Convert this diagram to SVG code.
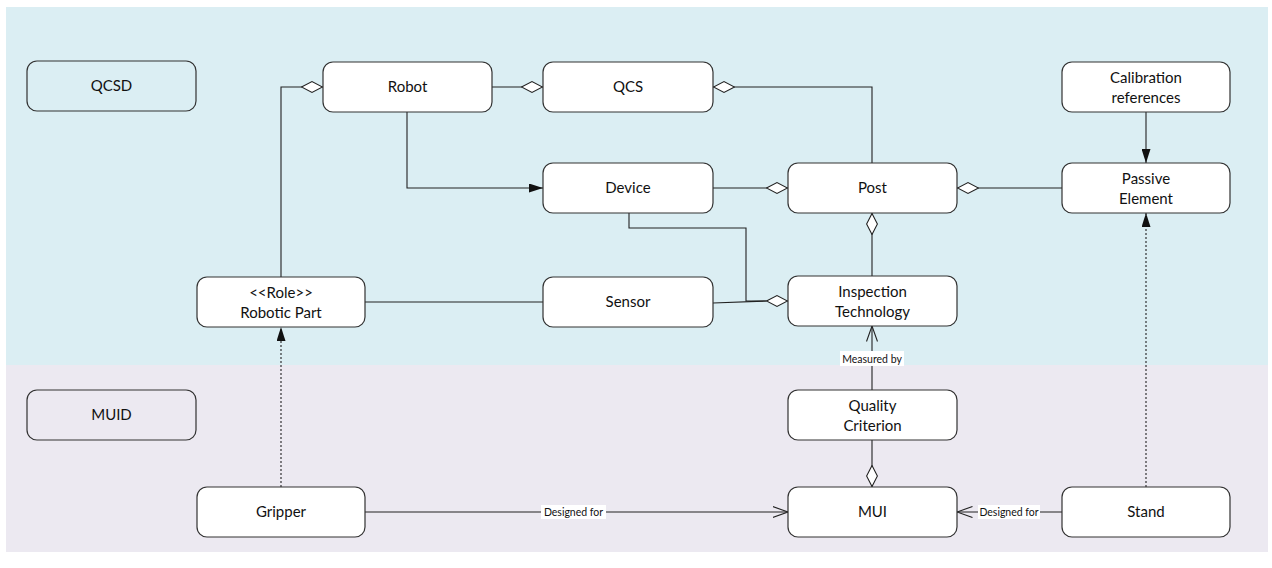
<svg xmlns="http://www.w3.org/2000/svg" width="1272" height="568" viewBox="0 0 1272 568">
<style>
.node rect{fill:#fff;stroke:#333;stroke-width:1.2}
.pkg rect{fill:none;stroke:#333;stroke-width:1.2}
text{font-family:Lato,"Liberation Sans",sans-serif;font-size:15px;fill:#111;text-anchor:middle}
.lbl{font-size:10.5px}
.c path{fill:none;stroke:#222;stroke-width:1.1}
.dot{stroke-dasharray:2,2}
</style>
<defs>
<marker id="dia" markerUnits="userSpaceOnUse" viewBox="0 0 22 12" refX="22" refY="6" markerWidth="22" markerHeight="12" orient="auto">
<path d="M0.5,6 L11,0.6 L21.5,6 L11,11.4 Z" fill="#fff" stroke="#222" stroke-width="1.1"/>
</marker>
<marker id="fa" markerUnits="userSpaceOnUse" viewBox="0 0 14 9" refX="14" refY="4.5" markerWidth="14" markerHeight="9" orient="auto">
<path d="M0,0 L14,4.5 L0,9 Z" fill="#111"/>
</marker>
<marker id="oa" markerUnits="userSpaceOnUse" viewBox="0 0 16 12" refX="15.5" refY="6" markerWidth="16" markerHeight="12" orient="auto">
<path d="M0,0.5 L15.5,6 L0,11.5" fill="none" stroke="#222" stroke-width="1.1"/>
</marker>
</defs>
<rect x="6" y="7" width="1262" height="358" fill="#DBEEF3"/>
<rect x="6" y="365" width="1262" height="187" fill="#ECE9F1"/>

<g id="QCSD" class="pkg"><rect x="27" y="61" width="169" height="50" rx="10"/><text x="111.5" y="91">QCSD</text></g>
<g id="MUID" class="pkg"><rect x="27" y="390" width="169" height="50" rx="10"/><text x="111.5" y="420">MUID</text></g>

<g class="c" id="connectors">
<path d="M281,277 V87 H323" marker-end="url(#dia)"/>
<path d="M492,87 H543" marker-end="url(#dia)"/>
<path d="M872,163 V87 H713" marker-end="url(#dia)"/>
<path d="M407,112 V188 H543" marker-end="url(#fa)"/>
<path d="M713,188 H788" marker-end="url(#dia)"/>
<path d="M1062,188 H957" marker-end="url(#dia)"/>
<path d="M1146,112 V163" marker-end="url(#fa)"/>
<path d="M872,276 V213" marker-end="url(#dia)"/>
<path d="M629,213 V228 H746 V301 H788" marker-end="url(#dia)"/>
<path d="M713,303 L766,301"/>
<path d="M365,302 H543"/>
<path class="dot" d="M281,487 V327" marker-end="url(#fa)"/>
<path class="dot" d="M1146,487 V213" marker-end="url(#fa)"/>
<path d="M872,390 V326" marker-end="url(#oa)"/>
<path d="M872,440 V487" marker-end="url(#dia)"/>
<path d="M365,512 H788" marker-end="url(#oa)"/>
<path d="M1062,512 H957" marker-end="url(#oa)"/>
<rect x="840" y="351" width="64" height="15" fill="#fff"/>
<text class="lbl" x="872" y="362.5">Measured by</text>
<rect x="541" y="505" width="65" height="14" fill="#fff"/>
<text class="lbl" x="573.5" y="516">Designed for</text>
<rect x="978" y="505" width="62" height="14" fill="#fff"/>
<text class="lbl" x="1009" y="516">Designed for</text>
</g>

<g id="Robot" class="node"><rect x="323" y="62" width="169" height="50" rx="10"/><text x="407.5" y="92">Robot</text></g>
<g id="QCS" class="node"><rect x="543" y="62" width="170" height="50" rx="10"/><text x="628" y="92">QCS</text></g>
<g id="CalibrationReferences" class="node"><rect x="1062" y="62" width="168" height="50" rx="10"/><text x="1146" y="83">Calibration</text><text x="1146" y="103">references</text></g>
<g id="Device" class="node"><rect x="543" y="163" width="170" height="50" rx="10"/><text x="628" y="193">Device</text></g>
<g id="Post" class="node"><rect x="788" y="163" width="169" height="50" rx="10"/><text x="872.5" y="193">Post</text></g>
<g id="PassiveElement" class="node"><rect x="1062" y="163" width="168" height="50" rx="10"/><text x="1146" y="184">Passive</text><text x="1146" y="204">Element</text></g>
<g id="RoboticPart" class="node"><rect x="197" y="277" width="168" height="50" rx="10"/><text x="281" y="298">&lt;&lt;Role&gt;&gt;</text><text x="281" y="318">Robotic Part</text></g>
<g id="Sensor" class="node"><rect x="543" y="277" width="170" height="50" rx="10"/><text x="628" y="307">Sensor</text></g>
<g id="InspectionTechnology" class="node"><rect x="788" y="276" width="169" height="50" rx="10"/><text x="872.5" y="297">Inspection</text><text x="872.5" y="317">Technology</text></g>
<g id="QualityCriterion" class="node"><rect x="788" y="390" width="169" height="50" rx="10"/><text x="872.5" y="411">Quality</text><text x="872.5" y="431">Criterion</text></g>
<g id="Gripper" class="node"><rect x="197" y="487" width="168" height="50" rx="10"/><text x="281" y="517">Gripper</text></g>
<g id="MUI" class="node"><rect x="788" y="487" width="169" height="50" rx="10"/><text x="872.5" y="517">MUI</text></g>
<g id="Stand" class="node"><rect x="1062" y="487" width="168" height="50" rx="10"/><text x="1146" y="517">Stand</text></g>
</svg>
